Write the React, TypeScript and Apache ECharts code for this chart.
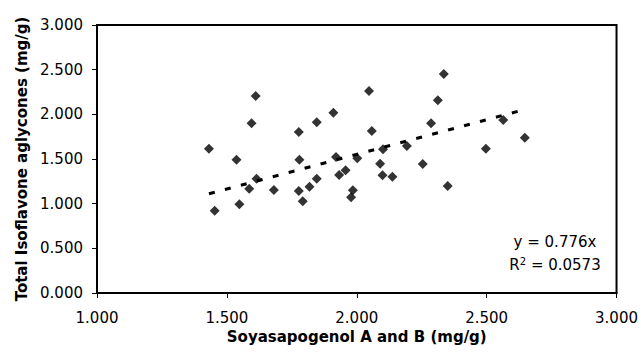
import React, { useEffect, useRef } from "react";
import * as echarts from "echarts";

// Soyasapogenol A and B (mg/g) vs Total Isoflavone aglycones (mg/g)
const soyasapogenol = [
  1.611, 1.595, 1.777, 1.431, 1.537, 1.779, 1.614, 1.586, 1.681, 1.777,
  1.818, 1.792, 1.548, 1.453, 2.047, 1.91, 1.846, 2.058, 1.92, 2.002,
  2.101, 2.193, 2.09, 1.846, 1.957, 1.932, 2.099, 2.137, 1.985, 1.978,
  2.335, 2.312, 2.286, 2.564, 2.647, 2.497, 2.254, 2.35,
];
const isoflavone = [
  2.206, 1.9, 1.803, 1.616, 1.493, 1.493, 1.28, 1.168, 1.153, 1.142,
  1.19, 1.027, 0.993, 0.922, 2.262, 2.019, 1.912, 1.814, 1.523, 1.508,
  1.609, 1.646, 1.448, 1.28, 1.374, 1.321, 1.318, 1.302, 1.15, 1.072,
  2.452, 2.158, 1.9, 1.937, 1.739, 1.616, 1.445, 1.198,
];
const xTicks = [1.0, 1.5, 2.0, 2.5, 3.0];
const yTicks = [0.0, 0.5, 1.0, 1.5, 2.0, 2.5, 3.0];
const trendSlope = 0.776;
const rSquared = "0.0573";
const xTitle = "Soyasapogenol A and B (mg/g)";
const yTitle = "Total Isoflavone aglycones (mg/g)";

const FONT = "DejaVu Sans";

export default function App() {
  const ref = useRef<HTMLDivElement>(null);

  useEffect(() => {
    if (!ref.current) return;
    const chart = echarts.init(ref.current, undefined, { renderer: "svg" });
    const points = soyasapogenol.map((x, i) => [x, isoflavone[i]]);
    const xMin = Math.min(...soyasapogenol);
    const xMax = Math.max(...soyasapogenol);
    const trend = [
      [xMin, trendSlope * xMin],
      [xMax, trendSlope * xMax],
    ];

    chart.setOption({
      animation: false,
      backgroundColor: "#fff",
      grid: {
        left: 97,
        right: 23,
        top: 25,
        bottom: 67,
        show: true,
        borderColor: "#000",
        borderWidth: 2,
        containLabel: false,
      },
      xAxis: {
        type: "value",
        min: xTicks[0],
        max: xTicks[xTicks.length - 1],
        interval: xTicks[1] - xTicks[0],
        name: xTitle,
        nameLocation: "middle",
        nameGap: 32,
        nameTextStyle: {
          fontFamily: FONT,
          fontWeight: "bold",
          fontSize: 15,
          color: "#000",
        },
        axisLine: { show: true, lineStyle: { color: "#000", width: 2 } },
        axisTick: { show: true, length: 5, lineStyle: { color: "#000", width: 1 } },
        axisLabel: {
          formatter: (v: number) => v.toFixed(3),
          fontFamily: FONT,
          fontSize: 15,
          color: "#000",
          margin: 17,
        },
        splitLine: { show: false },
      },
      yAxis: {
        type: "value",
        min: yTicks[0],
        max: yTicks[yTicks.length - 1],
        interval: yTicks[1] - yTicks[0],
        name: yTitle,
        nameLocation: "middle",
        nameRotate: 90,
        nameGap: 56,
        nameTextStyle: {
          fontFamily: FONT,
          fontWeight: "bold",
          fontSize: 15,
          color: "#000",
        },
        axisLine: { show: true, lineStyle: { color: "#000", width: 2 } },
        axisTick: { show: true, length: 5, lineStyle: { color: "#000", width: 1 } },
        axisLabel: {
          formatter: (v: number) => v.toFixed(3),
          fontFamily: FONT,
          fontSize: 15,
          color: "#000",
          margin: 14,
        },
        splitLine: { show: false },
      },
      series: [
        {
          type: "line",
          data: trend,
          symbol: "none",
          silent: true,
          lineStyle: { color: "#000", width: 3, type: [6, 10.5], cap: "butt" },
          z: 1,
        },
        {
          type: "scatter",
          data: points,
          symbol: "diamond",
          symbolSize: 10,
          itemStyle: { color: "#000" },
          z: 2,
        },
      ],
      graphic: [
        {
          type: "text",
          x: 555,
          y: 242,
          style: {
            text: `y = ${trendSlope}x`,
            fontFamily: FONT,
            fontSize: 15,
            fill: "#000",
            align: "center",
            verticalAlign: "middle",
          },
        },
        {
          type: "text",
          x: 555,
          y: 265,
          style: {
            text: `R{sup|2} = ${rSquared}`,
            fontFamily: FONT,
            fontSize: 15,
            fill: "#000",
            align: "center",
            verticalAlign: "middle",
            rich: {
              sup: {
                fontFamily: FONT,
                fontSize: 10,
                fill: "#000",
                verticalAlign: "top",
                padding: [0, 0, 8, 0],
              },
            },
          },
        },
      ],
    });

    return () => chart.dispose();
  }, []);

  return (
    <div
      ref={ref}
      style={{ position: "absolute", left: 0, top: 0, width: 641, height: 360 }}
    />
  );
}
